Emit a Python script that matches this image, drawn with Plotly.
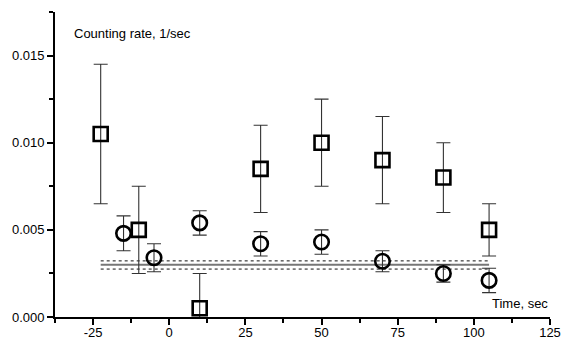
import plotly.graph_objects as go

# Square series: time (sec), counting rate (1/sec), symmetric error
sq_t = [-22.5, -10, 10, 30, 50, 70, 90, 105]
sq_rate = [0.0105, 0.0050, 0.0005, 0.0085, 0.0100, 0.0090, 0.0080, 0.0050]
sq_err = [0.0040, 0.0025, 0.0020, 0.0025, 0.0025, 0.0025, 0.0020, 0.0015]

# Circle series
ci_t = [-15, -5, 10, 30, 50, 70, 90, 105]
ci_rate = [0.0048, 0.0034, 0.0054, 0.0042, 0.0043, 0.0032, 0.0025, 0.0021]
ci_err = [0.0010, 0.0008, 0.0007, 0.0007, 0.0007, 0.0006, 0.0005, 0.0007]

# Background level with its band
bg_t = [-22.5, 105]
bg_level = 0.0030
bg_upper = 0.00322
bg_lower = 0.00275

x_ticks = [-25, 0, 25, 50, 75, 100, 125]
x_labels = ["-25", "0", "25", "50", "75", "100", "125"]
y_ticks = [0.000, 0.005, 0.010, 0.015]

FONT = "Liberation Sans, Arial, sans-serif"

fig = go.Figure()

fig.add_trace(go.Scatter(
    x=bg_t, y=[bg_level, bg_level], mode="lines",
    line=dict(color="#777777", width=2), hoverinfo="skip"))
for lvl in (bg_upper, bg_lower):
    fig.add_trace(go.Scatter(
        x=bg_t, y=[lvl, lvl], mode="lines",
        line=dict(color="#111111", width=1, dash="dot"), hoverinfo="skip"))

err_style = dict(type="data", visible=True, color="#333333", thickness=1.1, width=7)

fig.add_trace(go.Scatter(
    x=sq_t, y=sq_rate, mode="markers",
    error_y=dict(array=sq_err, **err_style),
    marker=dict(symbol="square-open", size=14, color="black",
                line=dict(width=2.6, color="black"))))

fig.add_trace(go.Scatter(
    x=ci_t, y=ci_rate, mode="markers",
    error_y=dict(array=ci_err, **err_style),
    marker=dict(symbol="circle-open", size=14.5, color="black",
                line=dict(width=2.6, color="black"))))

fig.add_annotation(xref="x", yref="paper", x=-32, y=0.93, xanchor="left", yanchor="middle",
                   text="Counting rate, 1/sec", showarrow=False,
                   font=dict(family=FONT, size=13, color="black"))
fig.add_annotation(xref="x", yref="paper", x=125, y=0.045, xanchor="right", yanchor="middle",
                   text="Time, sec", showarrow=False,
                   font=dict(family=FONT, size=13, color="black"))

fig.update_layout(
    width=561, height=339,
    margin=dict(l=55, r=11, t=12, b=22),
    paper_bgcolor="white", plot_bgcolor="white",
    showlegend=False,
    font=dict(family=FONT, size=13, color="black"),
    xaxis=dict(range=[-37.5, 125], tickvals=x_ticks, ticktext=x_labels, ticks="outside",
               ticklen=6, tickwidth=1.5, tickcolor="black", showline=True,
               linecolor="black", linewidth=1.8, showgrid=False, zeroline=False,
               automargin=False, ticklabelstandoff=-4,
               minor=dict(ticks="outside", ticklen=4, tickwidth=1.5, tickcolor="black",
                          dtick=12.5, tick0=-37.5, showgrid=False)),
    yaxis=dict(range=[0, 0.0175], tickvals=y_ticks, tickformat=".3f", ticks="outside",
               ticklen=6, tickwidth=1.5, tickcolor="black", showline=True,
               linecolor="black", linewidth=1.8, showgrid=False, zeroline=False,
               automargin=False,
               minor=dict(ticks="outside", ticklen=4, tickwidth=1.5, tickcolor="black",
                          dtick=0.0025, tick0=0, showgrid=False)),
)

fig.write_html("out.html")
